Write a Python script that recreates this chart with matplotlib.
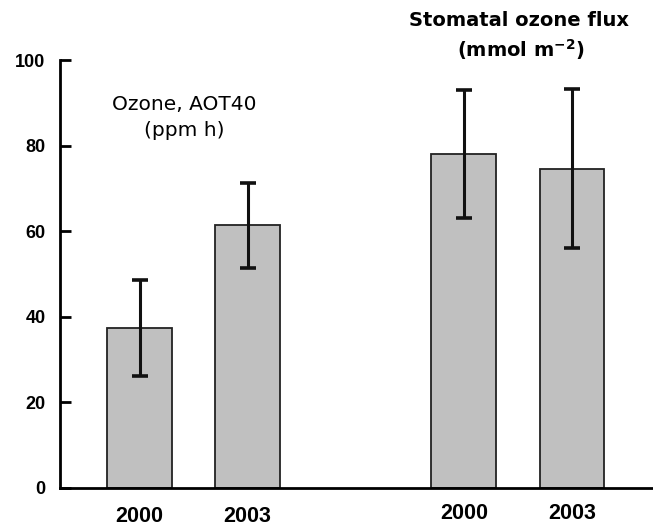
import matplotlib
matplotlib.use("Agg")
import matplotlib.pyplot as plt
import matplotlib.transforms as mtransforms
import numpy as np

categories = ["2000", "2003", "2000", "2003"]
positions = [0, 1, 3, 4]
values = [37.5, 61.5, 78.0, 74.5]
err_low = [26.2, 51.4, 63.2, 56.0]
err_high = [48.6, 71.3, 93.0, 93.2]
yticks = [0, 20, 40, 60, 80, 100]

plt.rcParams['font.family'] = ['Liberation Sans', 'DejaVu Sans']
plt.rcParams['mathtext.fontset'] = 'dejavusans'

fig = plt.figure(figsize=(6.53, 5.26), dpi=100)
ax = fig.add_axes([60/653, 38/526, 1 - 60/653, 428/526])

vals = np.array(values)
yerr = np.vstack([vals - np.array(err_low), np.array(err_high) - vals])
ax.bar(positions, values, width=0.6, color="#c0c0c0", edgecolor="#222222",
       linewidth=1.3, zorder=2)
ax.errorbar(positions, values, yerr=yerr, fmt="none", ecolor="#111111",
            elinewidth=2.2, capsize=6, capthick=2.6, zorder=3)

ax.set_xlim(-0.736, 4.75)
ax.set_ylim(0, 100)
ax.set_yticks(yticks)
ax.set_yticklabels([str(t) for t in yticks], fontsize=13, fontweight="bold")
ax.set_xticks(positions)
ax.set_xticklabels(categories, fontsize=15.5, fontweight="bold")

ax.tick_params(axis="y", direction="in", length=8, width=2, pad=10.5)
ax.tick_params(axis="x", length=0, pad=11)
for s in ["top", "right"]:
    ax.spines[s].set_visible(False)
for s in ["left", "bottom"]:
    ax.spines[s].set_linewidth(2)
ax.spines["left"].set_bounds(0, 100)

# first pair labels sit slightly lower
for lab in ax.get_xticklabels()[:2]:
    lab.set_transform(lab.get_transform() +
                      mtransforms.ScaledTranslation(0, -2.2/72, fig.dpi_scale_trans))

fig.text(184/653, 1 - 104/526, "Ozone, AOT40", ha="center", va="center",
         fontsize=14.5, family="DejaVu Sans")
fig.text(184/653, 1 - 130/526, "(ppm h)", ha="center", va="center",
         fontsize=14.5, family="DejaVu Sans")
fig.text(519/653, 1 - 21/526, "Stomatal ozone flux", ha="center", va="center",
         fontsize=14, fontweight="bold", family="DejaVu Sans")
fig.text(521/653, 1 - 50/526, "(mmol m$^{\\mathbf{-2}}$)", ha="center", va="center",
         fontsize=14, fontweight="bold", family="DejaVu Sans")

fig.savefig("out.png", dpi=100)
